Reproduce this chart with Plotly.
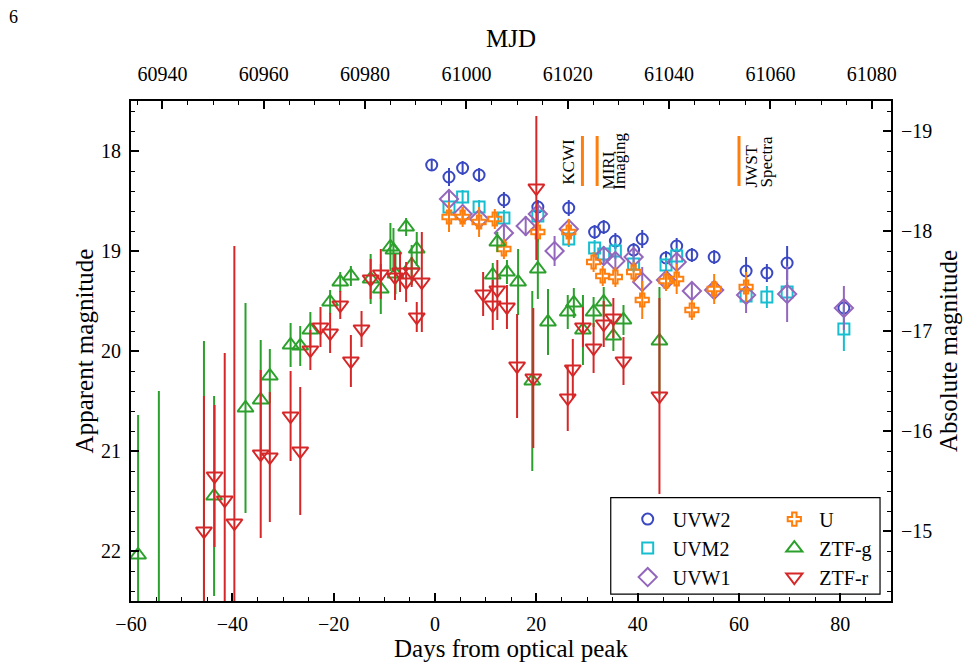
import plotly.graph_objects as go

# ---------------- data (days from optical peak, apparent mag, error) ----------------
uvw2_t = [-0.65, 2.76, 5.45, 8.7, 13.6, 20.3, 26.4, 31.5, 33.3, 35.6, 39.2, 40.9, 45.6, 47.7, 50.7, 55.1, 61.4, 65.5, 69.5, 80.7]
uvw2_m = [18.14, 18.26, 18.17, 18.24, 18.49, 18.56, 18.57, 18.81, 18.76, 18.90, 18.99, 18.88, 19.07, 18.95, 19.04, 19.06, 19.20, 19.22, 19.12, 19.57]
uvw2_e = [0.06, 0.09, 0.07, 0.07, 0.08, 0.07, 0.08, 0.07, 0.07, 0.08, 0.07, 0.09, 0.07, 0.08, 0.07, 0.07, 0.14, 0.09, 0.17, 0.08]

uvm2_t = [2.76, 5.45, 8.7, 13.6, 20.3, 26.4, 31.5, 33.3, 35.6, 39.2, 45.6, 47.7, 61.4, 65.5, 69.5, 80.7]
uvm2_m = [18.56, 18.46, 18.56, 18.67, 18.65, 18.88, 18.97, 19.03, 19.00, 19.13, 19.14, 19.05, 19.45, 19.46, 19.41, 19.78]
uvm2_e = [0.07, 0.07, 0.07, 0.08, 0.08, 0.08, 0.08, 0.08, 0.08, 0.08, 0.08, 0.08, 0.10, 0.11, 0.10, 0.22]

uvw1_t = [2.76, 5.45, 8.7, 13.6, 17.9, 20.3, 23.6, 26.4, 33.3, 35.6, 39.2, 40.9, 45.6, 47.7, 50.7, 55.1, 61.4, 69.5, 80.7]
uvw1_m = [18.48, 18.63, 18.68, 18.82, 18.75, 18.63, 19.00, 18.78, 19.05, 19.10, 19.06, 19.31, 19.29, 19.11, 19.40, 19.39, 19.44, 19.43, 19.57]
uvw1_e = [0.10, 0.07, 0.07, 0.08, 0.10, 0.08, 0.15, 0.07, 0.08, 0.07, 0.08, 0.15, 0.08, 0.09, 0.08, 0.08, 0.18, 0.28, 0.22]

u_t = [2.76, 5.45, 8.7, 11.8, 13.6, 20.3, 26.4, 31.3, 33.1, 35.6, 39.2, 40.9, 45.6, 47.7, 50.7, 55.1, 61.4]
u_m = [18.66, 18.66, 18.71, 18.68, 18.98, 18.81, 18.81, 19.11, 19.25, 19.26, 19.21, 19.49, 19.30, 19.28, 19.59, 19.38, 19.36]
u_e = [0.15, 0.10, 0.15, 0.10, 0.10, 0.10, 0.13, 0.10, 0.10, 0.10, 0.10, 0.19, 0.10, 0.15, 0.10, 0.15, 0.15]

g_t = [-58.6, -54.5, -45.6, -43.6, -37.4, -34.4, -32.6, -28.5, -26.6, -24.6, -20.7, -18.7, -16.6,
       -12.7, -10.7, -8.8, -8.2, -7.8, -5.7, -4.6, -3.6, 11.4, 12.3, 14.2, 16.4, 19.2, 20.3, 22.3,
       26.2, 27.4, 29.2, 31.3, 33.3, 35.2, 37.2, 44.3]
g_m = [22.04, 23.00, 22.80, 21.45, 20.57, 20.49, 20.25, 19.94, 19.95, 19.79, 19.51, 19.31, 19.25,
       19.28, 19.38, 18.96, 18.99, 19.23, 18.76, 19.14, 18.98, 19.24, 18.91, 19.21, 19.31, 20.30, 19.18, 19.71,
       19.61, 19.52, 19.79, 19.61, 19.51, 19.85, 19.69, 19.90]
g_e = [1.40, 2.60, 2.90, 1.00, 1.05, 0.60, 0.27, 0.22, 0.20, 0.18, 0.12, 0.10, 0.10,
       0.25, 0.25, 0.24, 0.22, 0.20, 0.09, 0.20, 0.17, 0.12, 0.10, 0.12, 0.33, 0.90, 0.30, 0.33,
       0.17, 0.15, 0.35, 0.15, 0.15, 0.15, 0.15, 0.54]

r_t = [-45.6, -43.5, -41.5, -39.6, -34.4, -32.6, -28.5, -26.6, -24.6, -22.6, -20.7, -18.7, -16.6,
       -14.5, -12.7, -10.7, -7.9, -6.9, -5.7, -4.6, -3.6, -2.6, 9.5, 11.4, 12.3, 14.2, 16.2, 19.4,
       20.0, 26.2, 27.2, 29.2, 31.3, 33.3, 35.2, 37.2, 44.3]
r_m = [21.80, 21.25, 21.49, 21.72, 21.03, 21.06, 20.65, 21.00, 19.99, 19.76, 19.82, 19.54, 20.10,
       19.78, 19.28, 19.23, 19.26, 19.21, 19.31, 19.21, 19.66, 19.31, 19.43, 19.54, 19.39, 19.56, 20.15, 20.27,
       18.37, 20.47, 20.18, 19.76, 19.97, 19.73, 19.67, 20.10, 20.45]
r_e = [1.35, 0.71, 1.47, 2.77, 0.84, 0.65, 0.45, 0.64, 0.20, 0.20, 0.20, 0.14, 0.26,
       0.18, 0.20, 0.25, 0.23, 0.20, 0.20, 0.15, 0.15, 0.50, 0.22, 0.25, 0.30, 0.22, 0.52, 0.70,
       0.72, 0.33, 0.30, 0.20, 0.25, 0.23, 0.20, 0.24, 0.98]

# epochs of observations marked with vertical lines (days from peak)
event_days = [29.1, 32.0, 60.0]
# label lines (rotated text): text, day position of the text line
event_text = ["KCWI", "MIRI", "Imaging", "JWST", "Spectra"]
event_text_days = [26.4, 34.3, 36.4, 62.4, 65.4]

MJD_PEAK = 60993.8      # MJD of optical peak
DIST_MOD = 36.8         # distance modulus (apparent -> absolute)
X_RANGE = [-60, 90]
Y_RANGE = [22.5, 17.5]

# ---------------- figure ----------------
FONT = "Liberation Serif, Times New Roman, serif"
W, H = 970, 670
ML, MR, MT, MB = 131, 77, 101, 66

def px_x(p):
    return (p - ML) / (W - ML - MR)

def px_y(p):
    return (H - MB - p) / (H - MT - MB)

series = [
    ("UVW2", uvw2_t, uvw2_m, uvw2_e, "#3a48c2", "circle-open", 11, "legend"),
    ("UVM2", uvm2_t, uvm2_m, uvm2_e, "#17becf", "square-open", 11, "legend"),
    ("UVW1", uvw1_t, uvw1_m, uvw1_e, "#9467bd", "diamond-open", 14, "legend"),
    ("U", u_t, u_m, u_e, "#ff7f0e", "cross-open", 11, "legend2"),
    ("ZTF-g", g_t, g_m, g_e, "#2ca02c", "triangle-up-open", 14, "legend2"),
    ("ZTF-r", r_t, r_m, r_e, "#d62728", "triangle-down-open", 14, "legend2"),
]

fig = go.Figure()
for name, t, m, e, col, sym, sz, leg in series:
    fig.add_trace(go.Scatter(
        x=t, y=m, mode="markers", name=name, legend=leg,
        marker=dict(symbol=sym, size=sz, color=col, line=dict(width=2, color=col)),
        error_y=dict(type="data", array=e, visible=True, color=col, thickness=2, width=0),
        cliponaxis=True,
    ))

# invisible trace carrying the same data on the MJD / absolute-magnitude axes
fig.add_trace(go.Scatter(
    x=[MJD_PEAK + d for d in u_t], y=[mm - DIST_MOD for mm in u_m],
    xaxis="x2", yaxis="y2", mode="markers", marker=dict(opacity=0),
    showlegend=False, hoverinfo="skip",
))

# event lines + labels
for d in event_days:
    fig.add_shape(type="line", x0=d, x1=d, y0=17.85, y1=18.35, xref="x", yref="y",
                  line=dict(color="#ff7f0e", width=3))

LABEL_SIZE = 17
CHAR_W = {"K": .722, "C": .667, "W": .944, "I": .333, "M": .889, "R": .667, "m": .778,
          "a": .444, "g": .5, "i": .278, "n": .5, "J": .389, "S": .556, "T": .611,
          "p": .5, "e": .444, "c": .444, "t": .278, "r": .333}
BOTTOM_PX = {"KCWI": 185, "MIRI": 190, "Imaging": 190, "JWST": 188, "Spectra": 188}
for lab, d in zip(event_text, event_text_days):
    length = sum(CHAR_W.get(ch, .5) for ch in lab) * LABEL_SIZE
    cy_px = BOTTOM_PX[lab] - length / 2
    ymag = Y_RANGE[1] + (cy_px - MT) / (H - MT - MB) * (Y_RANGE[0] - Y_RANGE[1])
    fig.add_annotation(x=d, y=ymag, xref="x", yref="y", text=lab, showarrow=False,
                       textangle=-90, xanchor="center", yanchor="middle",
                       font=dict(family=FONT, size=LABEL_SIZE, color="black"))

# page number
fig.add_annotation(x=px_x(13), y=px_y(16), xref="paper", yref="paper", text="6",
                   showarrow=False, font=dict(family=FONT, size=18, color="black"),
                   xanchor="center", yanchor="middle")

# legend frame
fig.add_shape(type="rect", xref="paper", yref="paper",
              x0=px_x(612), x1=px_x(882), y0=px_y(597), y1=px_y(500),
              line=dict(color="black", width=1.2), fillcolor="rgba(0,0,0,0)")

axis_common = dict(
    showline=True, linecolor="black", linewidth=1.8, ticks="inside", ticklen=8,
    tickwidth=1.5, tickcolor="black", showgrid=False, zeroline=False,
    tickfont=dict(family=FONT, size=20, color="black"),
)

leg_common = dict(font=dict(family=FONT, size=20, color="black"), bgcolor="rgba(0,0,0,0)",
                  borderwidth=0, yanchor="top", xanchor="left", orientation="v",
                  tracegroupgap=0, itemwidth=40)

fig.update_layout(
    width=W, height=H,
    margin=dict(l=ML, r=MR, t=MT, b=MB),
    paper_bgcolor="white", plot_bgcolor="white",
    font=dict(family=FONT, color="black"),
    xaxis=dict(range=X_RANGE, dtick=20, tick0=0, side="bottom",
               minor=dict(dtick=5, ticks="inside", ticklen=4, tickwidth=1.2, tickcolor="black"),
               title=dict(text="Days from optical peak", font=dict(family=FONT, size=25), standoff=6),
               ticklabelstandoff=4, **axis_common),
    yaxis=dict(range=Y_RANGE, dtick=1, tick0=0,
               minor=dict(dtick=0.2, ticks="inside", ticklen=4, tickwidth=1.2, tickcolor="black"),
               title=dict(text="Apparent magnitude", font=dict(family=FONT, size=25), standoff=0),
               ticklabelstandoff=4, **axis_common),
    xaxis2=dict(range=[MJD_PEAK + X_RANGE[0], MJD_PEAK + X_RANGE[1]], dtick=20, tick0=60000,
                tickformat="d", overlaying="x", side="top", anchor="y",
                minor=dict(dtick=5, ticks="inside", ticklen=4, tickwidth=1.2, tickcolor="black"),
                title=dict(text="MJD", font=dict(family=FONT, size=25), standoff=8),
                ticklabelstandoff=10, **axis_common),
    yaxis2=dict(range=[Y_RANGE[0] - DIST_MOD, Y_RANGE[1] - DIST_MOD], dtick=1, tick0=0,
                overlaying="y", side="right", anchor="x",
                minor=dict(dtick=0.2, ticks="inside", ticklen=4, tickwidth=1.2, tickcolor="black"),
                title=dict(text="Absolute magnitude", font=dict(family=FONT, size=25), standoff=8),
                ticklabelstandoff=4, **axis_common),
    legend=dict(x=px_x(624), y=px_y(502), **leg_common),
    legend2=dict(x=px_x(771), y=px_y(502), **leg_common),
    showlegend=True,
)

fig.write_html("out.html")
